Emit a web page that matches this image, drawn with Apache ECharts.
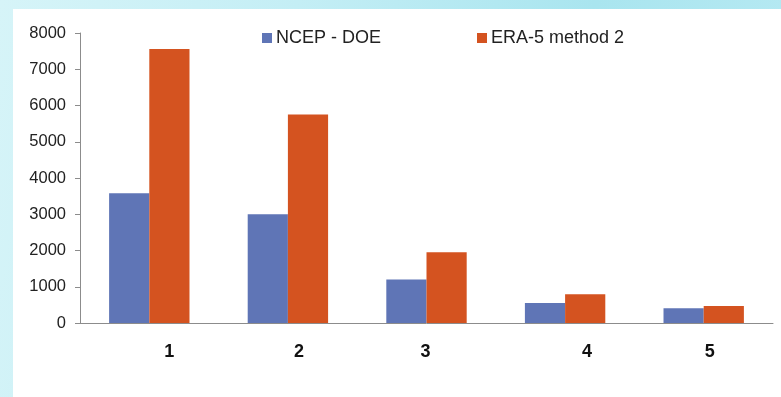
<!DOCTYPE html>
<html>
<head>
<meta charset="utf-8">
<script src="https://cdn.jsdelivr.net/npm/echarts@6/dist/echarts.min.js"></script>
<style>
  html, body { margin: 0; padding: 0; }
  body {
    width: 781px; height: 397px; overflow: hidden;
    background: linear-gradient(100deg, #d6f4f8 0%, #c4eef5 35%, #a9e5ef 70%, #b8eaf3 100%);
    position: relative;
  }
  #panel {
    position: absolute; left: 13px; top: 9px; right: 0; bottom: 0;
    background: #ffffff;
  }
  #chart { position: absolute; left: 0; top: 0; width: 781px; height: 397px; }
</style>
</head>
<body>
<div id="panel"></div>
<div id="chart"></div>
<script>
// Categories and series values
const categories = ['1', '2', '3', '4', '5'];
const ncepDoe = [3580, 3000, 1200, 550, 410];
const era5Method2 = [7560, 5750, 1950, 790, 470];
const seriesNames = ['NCEP - DOE', 'ERA-5 method 2'];
const yTicks = { min: 0, max: 8000, interval: 1000 };

// Horizontal nudges for the category labels (px), drawn via rich padding
const labelNudge = [20, 11, -1, 22, 6];

const rich = {};
labelNudge.forEach((d, i) => {
  rich['c' + i] = {
    padding: d >= 0 ? [0, 0, 0, 2 * d] : [0, -2 * d, 0, 0]
  };
});

const chart = echarts.init(document.getElementById('chart'), null, { renderer: 'canvas' });
chart.setOption({
  backgroundColor: 'transparent',
  animation: false,
  legend: {
    left: 257,
    top: 24,
    itemWidth: 10,
    itemHeight: 10,
    itemGap: 96,
    icon: 'rect',
    textStyle: { fontSize: 18, color: '#222', fontFamily: 'Liberation Sans', padding: [0, 0, 0, -1] },
    data: seriesNames
  },
  grid: { left: 80, right: 8, top: 33, bottom: 74, containLabel: false },
  xAxis: {
    type: 'category',
    data: categories,
    axisLine: { lineStyle: { color: '#8c8c8c', width: 1 } },
    axisTick: { show: false },
    axisLabel: {
      margin: 20,
      fontSize: 18,
      fontWeight: 'bold',
      color: '#111',
      fontFamily: 'Liberation Sans',
      formatter: (v, i) => '{c' + i + '|' + v + '}',
      rich: rich
    }
  },
  yAxis: {
    type: 'value',
    min: yTicks.min,
    max: yTicks.max,
    interval: yTicks.interval,
    splitLine: { show: false },
    axisLine: { show: true, lineStyle: { color: '#8c8c8c', width: 1 } },
    axisTick: { show: true, length: 5, lineStyle: { color: '#8c8c8c' } },
    axisLabel: {
      fontSize: 16.5, color: '#222', margin: 14, fontFamily: 'Liberation Sans',
      formatter: (v) => String(v)
    }
  },
  series: [
    {
      name: seriesNames[0],
      type: 'bar',
      data: ncepDoe,
      barGap: '0%',
      barCategoryGap: '42%',
      itemStyle: { color: '#5f75b6' }
    },
    {
      name: seriesNames[1],
      type: 'bar',
      data: era5Method2,
      barGap: '0%',
      barCategoryGap: '42%',
      itemStyle: { color: '#d45320' }
    }
  ]
});
</script>
</body>
</html>
